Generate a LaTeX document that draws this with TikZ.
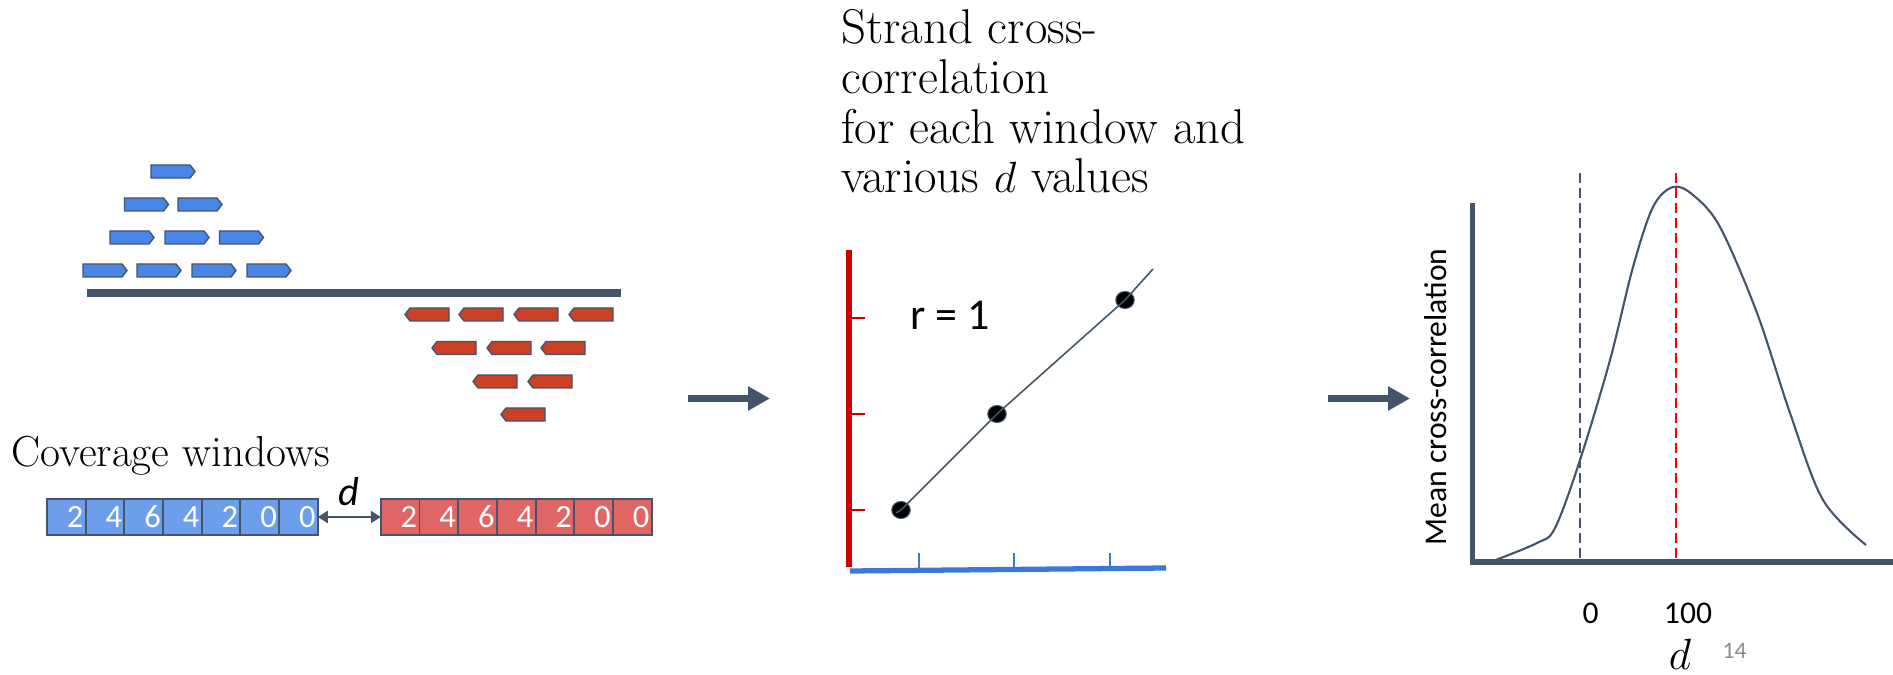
\documentclass[tikz,border=0pt]{standalone}
\usepackage{fontspec}
\newfontfamily\calibri{Carlito}
\usetikzlibrary{positioning,arrows.meta,shapes.geometric}
\definecolor{slate}{HTML}{44546A}
\definecolor{readblue}{HTML}{4A86E8}
\definecolor{readred}{HTML}{CC4125}
\definecolor{cellblue}{HTML}{6D9EEB}
\definecolor{cellred}{HTML}{E06666}
\definecolor{axisred}{HTML}{CC0000}
\definecolor{axisblue}{HTML}{3C78D8}

\tikzset{
  fwdread/.style={draw=slate, fill=readblue, line width=0.8pt},
  revread/.style={draw=slate, fill=readred, line width=0.8pt},
  cell/.style={draw=slate, line width=1.1pt, minimum width=0.774cm, minimum height=0.72cm,
    inner sep=0pt, outer sep=0pt, text=white, text width=0.68cm, align=right,
    font=\calibri\fontsize{18.5}{20}\selectfont},
  bigarrow/.style={slate, line width=0.16cm, -{Triangle[length=0.44cm,width=0.46cm]}},
  dot/.style={ellipse, draw=slate, fill=black, line width=0.6pt, minimum width=0.37cm,
    minimum height=0.34cm, inner sep=0pt},
  sanslabel/.style={font=\calibri\fontsize{18}{20}\selectfont, inner sep=0pt}
}

\begin{document}
\begin{tikzpicture}[x=0.02cm, y=-0.02cm]
    \useasboundingbox (0,0) rectangle (1893,675);
    % Forward reads
    \foreach \x/\y in {151/165, 124.5/198, 178/198, 110/231, 165/231, 219.5/231,
                       83/264, 137/264, 192/264, 247/264}
      \draw[fwdread] (\x,\y) -- ++(39,0) -- ++(5,6.5) -- ++(-5,6.5) -- ++(-39,0) -- cycle;
    % Reference strand
    \draw[slate, line width=4pt] (87,293) -- (621,293);
    % Reverse reads
    \foreach \x/\y in {405/314.5, 459/314.5, 514/314.5, 569/314.5, 432/348, 487/348,
                       541/348, 473/381.5, 528/381.5, 501/414.5}
      \draw[revread] (\x,\y) -- ++(5,-6.5) -- ++(39,0) -- ++(0,13) -- ++(-39,0) -- cycle;

    % Coverage windows
    \node[anchor=base west, inner sep=0pt, font=\fontsize{24.7}{28}\selectfont]
      (covlabel) at (11,466) {Coverage windows};
    \node[cell, fill=cellblue, anchor=north west] (b1) at (47,499) {2};
    \foreach \v [count=\i from 2] in {4,6,4,2,0,0} {
      \pgfmathtruncatemacro\j{\i-1}
      \node[cell, fill=cellblue, right=0pt of b\j] (b\i) {\v};
    }
    \node[cell, fill=cellred, right=1.26cm of b7] (r1) {2};
    \foreach \v [count=\i from 2] in {4,6,4,2,0,0} {
      \pgfmathtruncatemacro\j{\i-1}
      \node[cell, fill=cellred, right=0pt of r\j] (r\i) {\v};
    }
    \draw[slate, line width=1.2pt, {Triangle[length=0.2cm,width=0.24cm]}-{Triangle[length=0.2cm,width=0.24cm]}]
      (b7.east) -- node[above, text=black, inner sep=0.2cm, font=\calibri\itshape\fontsize{23}{25}\selectfont] (dlabel) {d} (r1.west);

    % Step arrows
    \coordinate (arrowAs) at (688,398.5);
    \coordinate (arrowAe) at (770,398.5);
    \coordinate (arrowBs) at (1328,398.5);
    \coordinate (arrowBe) at (1410,398.5);
    \draw[bigarrow] (arrowAs) -- (arrowAe);
    \draw[bigarrow] (arrowBs) -- (arrowBe);

    % Strand cross-correlation
    \node[anchor=base west, align=left, inner sep=0pt, font=\fontsize{27.8}{28.45}\selectfont]
      (steptext) at (841,193) {Strand cross-\\correlation\\for each window and\\various $d$ values};
    \draw[axisred, line width=3.4pt] (849,250) -- (849,567);
    \foreach \y in {318,414,510}
      \draw[axisred, line width=1.1pt] (852,\y) -- (865,\y);
    \draw[axisblue, line width=3pt] (850,571) -- (1166,568);
    \foreach \x in {919,1014,1110}
      \draw[axisblue, line width=1.1pt] (\x,553) -- (\x,568);
    \node[dot] (p1) at (901,510) {};
    \node[dot] (p2) at (997,414) {};
    \node[dot] (p3) at (1125,300) {};
    \coordinate (fitend) at (1153,269);
    \draw[slate, line width=0.9pt] (896,513) -- (p1.center) -- (p2.center) -- (p3.center) -- (fitend);
    \node[anchor=base west, inner sep=0pt, font=\calibri\fontsize{25}{28}\selectfont]
      (rlabel) at (910,330) {r = 1};

    % Mean cross-correlation
    \draw[slate, line width=3pt] (1472.5,203) -- (1472.5,562) -- (1893,562);
    \draw[slate, line width=1.1pt, dash pattern=on 0.2cm off 0.1cm] (1580,173) -- (1580,560);
    \draw[red, line width=1.6pt, dash pattern=on 0.2cm off 0.1cm] (1676,173) -- (1676,560);
    \draw[slate, line width=1.2pt] plot[smooth, tension=0.55] coordinates {
      (1493,561) (1537,543) (1555,528) (1580,460) (1610,360) (1633,267) (1653,207)
      (1673,187) (1693,195) (1720,227) (1757,313) (1790,413) (1823,500) (1866,545)};
    \node[sanslabel, rotate=90, anchor=base] (ylabel) at (1446,397) {Mean cross-correlation};
    \node[sanslabel, anchor=base] (tick0) at (1590.5,623) {0};
    \node[sanslabel, anchor=base] (tick100) at (1688,623) {100};
    \node[anchor=base, inner sep=0pt, font=\fontsize{28.5}{30}\selectfont] (xlabel) at (1680,669) {$d$};
    \node[anchor=base, inner sep=0pt, text=black!45, font=\calibri\fontsize{13.5}{15}\selectfont]
      (pagenum) at (1734.5,658) {14};
\end{tikzpicture}
\end{document}
